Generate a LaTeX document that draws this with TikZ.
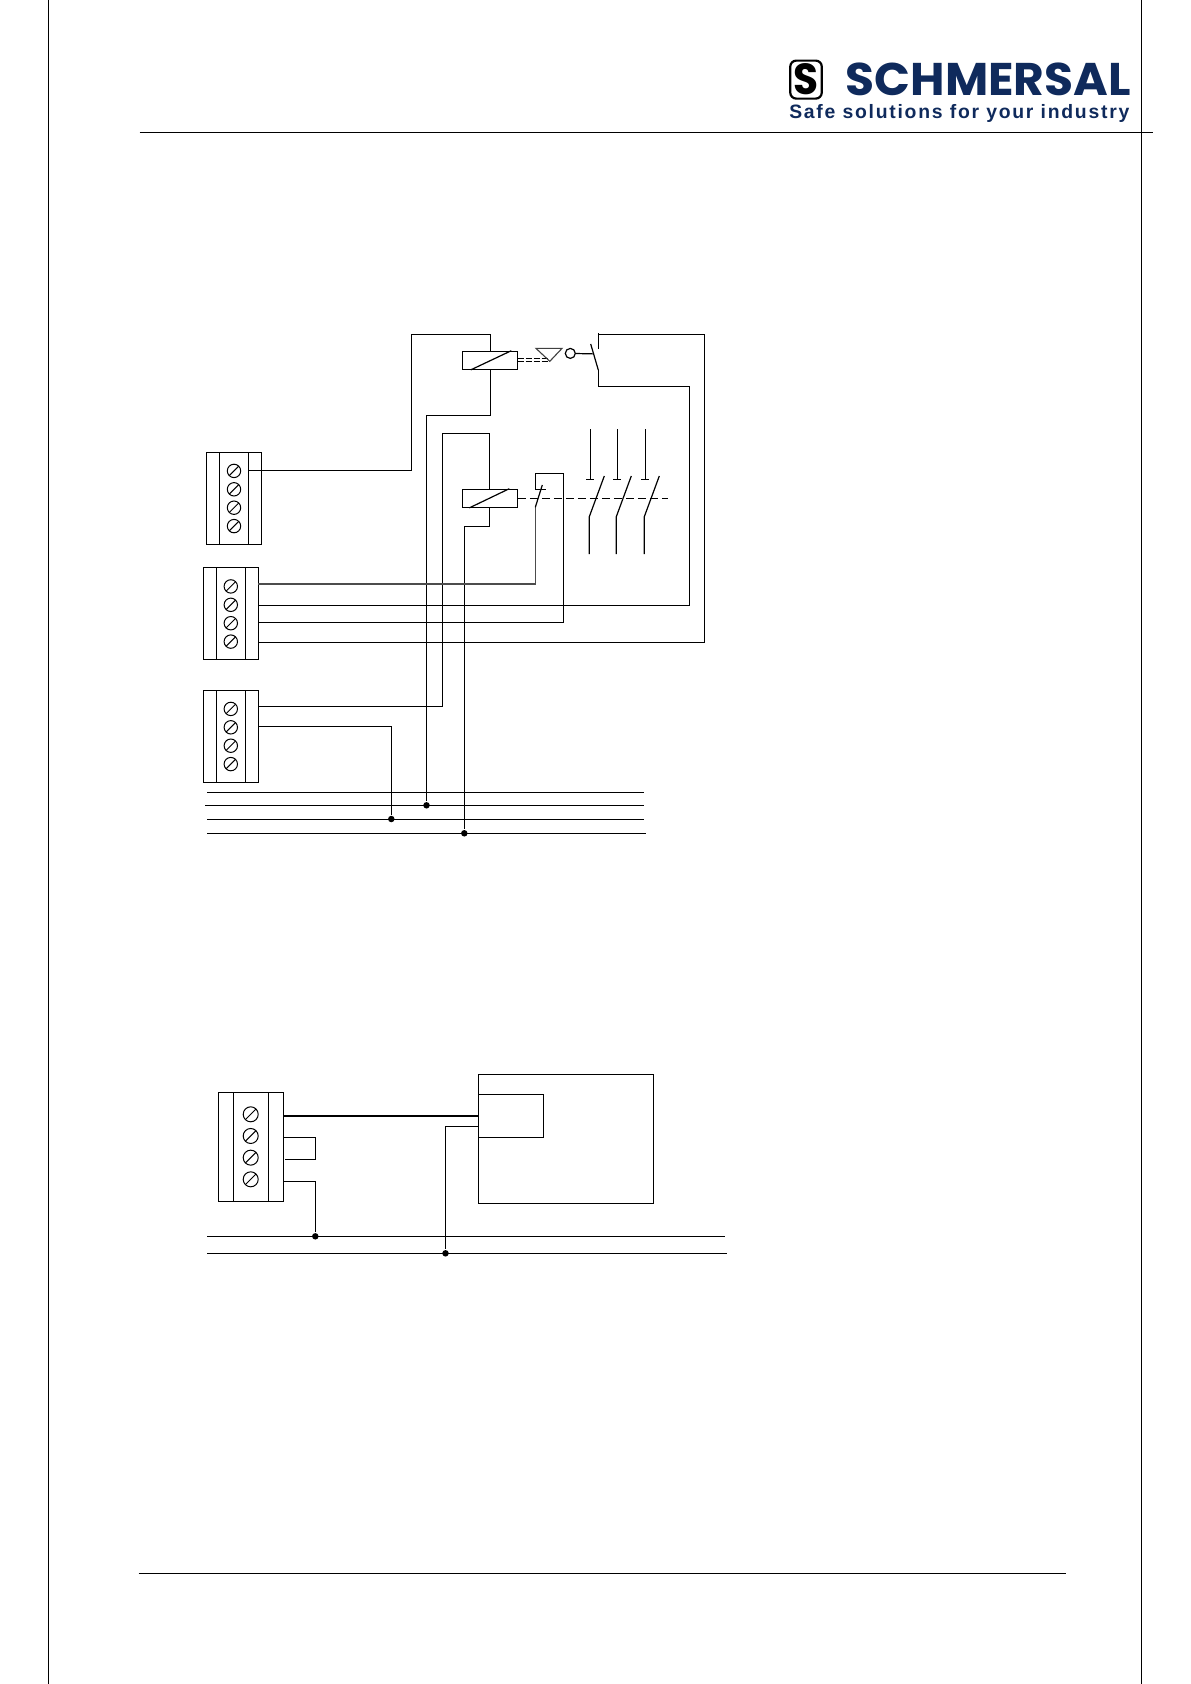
\documentclass[tikz,border=0pt]{standalone}
\usepackage{fontspec}
\setmainfont{Liberation Sans}
\newfontfamily\logofont{Poppins}
\usetikzlibrary{calc}
\definecolor{logoblue}{HTML}{0F2A5C}

\begin{document}
\begin{tikzpicture}[
  x=1pt,y=-1pt,
  line width=1.2pt,
  tblock/.style={draw,rectangle,minimum width=#1,minimum height=92pt,inner sep=0pt},
  screw/.style={draw,circle,minimum size=13.4pt,inner sep=0pt,line width=1pt,
    path picture={\draw (path picture bounding box.south west) -- (path picture bounding box.north east);}},
  coil/.style={draw,rectangle,minimum width=55pt,minimum height=18pt,inner sep=0pt},
  dot/.style={circle,fill=black,minimum size=6.5pt,inner sep=0pt}
]
  \useasboundingbox (0,0) rectangle (1191,1684);

  % page frame
  \draw (48.3,0) -- (48.3,1684);
  \draw (1141.8,0) -- (1141.8,1684);
  \draw (139.6,132.6) -- (1153,132.6);
  \draw (138.5,1573.6) -- (1066,1573.6);

  % logo
  \node[draw,rectangle,rounded corners=6pt,line width=2.2pt,minimum width=31.5pt,minimum height=38pt,inner sep=0pt] (badge) at (806,79.6) {};
  \node[inner sep=0pt] (badgeS) at (806,79.6) {\resizebox{25pt}{31pt}{\logofont\bfseries S}};
  \node[inner sep=0pt,text=logoblue] (brand) at (988.3,79.3) {\resizebox{285pt}{32.6pt}{\logofont\bfseries SCHMERSAL}};
  \node[inner sep=0pt,text=logoblue] (claim) at (959.3,113.6) {\resizebox{340pt}{!}{\addfontfeature{LetterSpace=9}\bfseries Safe solutions for your industry}};

  % upper terminal blocks
  \foreach \t/\tx/\ty in {ta/234/498.3,tb/230.8/613.8,tc/230.8/736.3} {
    \node[tblock=55pt] (\t) at (\tx,\ty) {};
    \node[tblock=29pt] (\t core) at (\tx,\ty) {};
    \foreach \i in {0,...,3}
      \node[screw] (\t\i) at ({\tx},{\ty-27.4+18.4*\i}) {};
  }

  % wire ends at the terminal blocks
  \coordinate (wa) at (248.7,470.3);
  \coordinate (wb1) at (258.3,584);
  \coordinate (wb2) at (258.3,605.3);
  \coordinate (wb3) at (258.3,622.3);
  \coordinate (wb4) at (258.3,642.3);
  \coordinate (wc1) at (258.3,706.3);
  \coordinate (wc2) at (258.3,726.3);

  % supply rails
  \foreach \b/\y/\xl/\xr in {1/792.3/207/644,2/805.3/205/644,3/819.3/207/644,4/833.3/207/646} {
    \coordinate (b\b l) at (\xl,\y);
    \coordinate (b\b r) at (\xr,\y);
    \draw (b\b l) -- (b\b r);
  }
  \node[dot] (d2) at (426.5,805.3) {};
  \node[dot] (d3) at (391.3,819) {};
  \node[dot] (d4) at (464.3,833.3) {};

  % coils
  \node[coil] (k1) at (490.3,360.3) {};
  \node[coil] (k2) at (489.8,498.3) {};
  \draw ([xshift=-19.6pt]k1.south) -- ([xshift=21pt]k1.north);
  \draw ([xshift=-20.5pt]k2.south) -- ([xshift=19.5pt]k2.north);

  % coil wires
  \draw (k1.north) |- (411.3,334.3) |- (wa);
  \draw (k1.south) |- (426.5,415.3) -- (d2);
  \draw (wc1) -| (442.5,433.3) -| (k2.north);
  \draw (k2.south) |- (464.3,526.3) -- (d4);
  \draw (wc2) -| (d3);

  % interlock contact
  \coordinate (la) at (517.7,358);
  \coordinate (lb) at (548.3,358);
  \coordinate (lc) at (517.7,361.3);
  \coordinate (ld) at (548.3,361.3);
  \draw[dash pattern=on 6pt off 2pt,line width=0.9pt] (la) -- (lb);
  \draw[dash pattern=on 6pt off 2pt,line width=0.9pt] (lc) -- (ld);
  \draw[black!75,line width=1.1pt] (536,348.4) -- (562,348.4) -- (549.8,361.3) -- cycle;
  \node[draw,circle,minimum size=10pt,inner sep=0pt] (lamp) at (570.3,353.4) {};
  \coordinate (sa) at (590.7,344);
  \coordinate (sb) at (598.3,370);
  \coordinate (sc) at (598.3,333);
  \coordinate (sd) at (598.3,348.7);
  \draw (lamp) -- ($(sa)!0.38!(sb)$);
  \draw (sa) -- (sb);
  \draw (sc) -- (sd);
  \draw (598.3,334.3) -| (704.3,642.3) -- (wb4);
  \draw (sb) |- (689.3,386.3) |- (wb2);

  % auxiliary contact of the lower coil
  \coordinate (aa) at (535.3,507.3);
  \coordinate (ab) at (542.3,485);
  \draw[black!70] (wb1) -| (aa);
  \draw (aa) -- (ab);
  \draw (545.7,489.3) -| (535.7,473.7) -| (563.3,622.3) -- (wb3);

  % main contacts
  \draw[dash pattern=on 8pt off 4pt] (k2.east) -- (668.3,498.3);
  \foreach \c/\x in {1/590.3,2/617.3,3/645.3} {
    \coordinate (c\c a) at (\x,429);
    \coordinate (c\c b) at (\x,479.3);
    \coordinate (c\c c) at ({\x+14},476);
    \coordinate (c\c d) at ({\x-1},516.7);
    \coordinate (c\c e) at ({\x-1},554);
    \draw (c\c a) -- (c\c b);
    \draw ([xshift=-4pt]c\c b) -- ([xshift=4pt]c\c b);
    \draw (c\c c) -- (c\c d) -- (c\c e);
  }

  % lower terminal block
  \node[draw,rectangle,minimum width=65pt,minimum height=109pt,inner sep=0pt] (td) at (250.8,1146.8) {};
  \node[draw,rectangle,minimum width=35pt,minimum height=109pt,inner sep=0pt] (td core) at (250.8,1146.8) {};
  \foreach \i in {0,...,3}
    \node[screw,minimum size=15pt] (td\i) at ({250.7},{1114.3+21.67*\i}) {};

  % device
  \node[draw,rectangle,minimum width=175pt,minimum height=129pt,inner sep=0pt] (dev) at (565.8,1138.8) {};
  \node[draw,rectangle,minimum width=65pt,minimum height=43pt,inner sep=0pt] (devin) at (510.8,1115.8) {};

  % lower rails
  \coordinate (e1l) at (207,1236.3);
  \coordinate (e1r) at (725,1236.3);
  \coordinate (e2l) at (207,1253.3);
  \coordinate (e2r) at (727,1253.3);
  \draw (e1l) -- (e1r);
  \draw (e2l) -- (e2r);
  \node[dot] (d5) at (315.3,1236.3) {};
  \node[dot] (d6) at (445.5,1253.3) {};

  % lower wires
  \coordinate (wd1) at (283.3,1116);
  \coordinate (wd2) at (478.3,1116);
  \coordinate (wd3) at (283.3,1137.3);
  \coordinate (wd4) at (285,1159.3);
  \coordinate (wd5) at (283.3,1181.3);
  \coordinate (wd6) at (478.3,1126.3);
  \draw[line width=2.2pt] (wd1) -- (wd2);
  \draw (wd3) -| (315.3,1159.3) -- (wd4);
  \draw (wd5) -| (d5);
  \draw (wd6) -| (d6);

\end{tikzpicture}
\end{document}
